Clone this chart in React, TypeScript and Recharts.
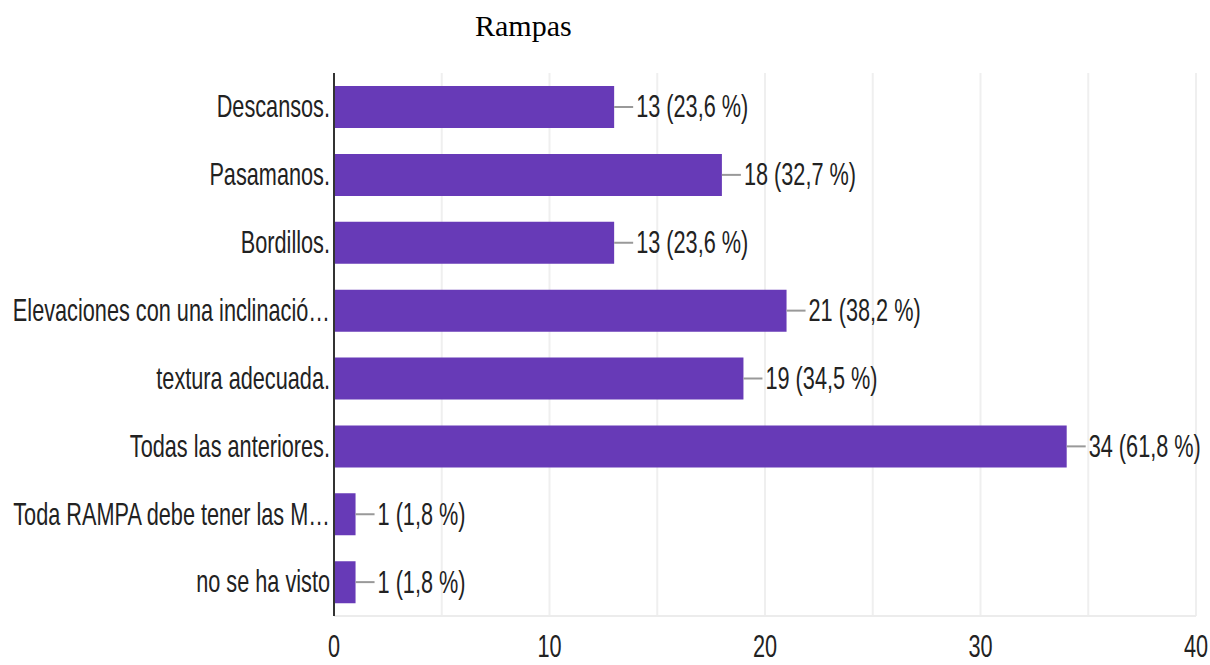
import { Bar, BarChart, CartesianGrid, LabelList, XAxis, YAxis } from 'recharts'

const categories = [
  'Descansos.',
  'Pasamanos.',
  'Bordillos.',
  'Elevaciones con una inclinació…',
  'textura adecuada.',
  'Todas las anteriores.',
  'Toda RAMPA debe tener las M…',
  'no se ha visto',
]
const counts = [13, 18, 13, 21, 19, 34, 1, 1]
const percents = ['23,6', '32,7', '23,6', '38,2', '34,5', '61,8', '1,8', '1,8']
const xTicks = [0, 5, 10, 15, 20, 25, 30, 35, 40]

const data = categories.map((name, i) => ({
  name,
  count: counts[i],
  label: `${counts[i]} (${percents[i]} %)`,
}))

const FONT = '"Liberation Sans", Arial, sans-serif'
const SQUEEZE = 0.7
const TEXT_COLOR = '#222'

function CategoryTick(props: any) {
  const { x, y, payload } = props
  return (
    <text
      transform={`translate(${x + 4},${y}) scale(${SQUEEZE},1)`}
      textAnchor="end"
      dominantBaseline="central"
      fontFamily={FONT}
      fontSize={31}
      fill={TEXT_COLOR}
    >
      {payload.value}
    </text>
  )
}

// only every other grid line gets a label
function ValueTick(props: any) {
  const { x, payload } = props
  if (payload.value % 10 !== 0) return null
  return (
    <text
      transform={`translate(${x},657) scale(${SQUEEZE},1)`}
      textAnchor="middle"
      fontFamily={FONT}
      fontSize={31}
      fill={TEXT_COLOR}
    >
      {payload.value}
    </text>
  )
}

function ValueLabel(props: any) {
  const { x, y, width, height, value } = props
  const endX = x + width
  const midY = y + height / 2
  return (
    <g>
      <line x1={endX} y1={midY} x2={endX + 19} y2={midY} stroke="#999" strokeWidth={2} />
      <text
        transform={`translate(${endX + 22},${midY}) scale(${SQUEEZE},1)`}
        dominantBaseline="central"
        fontFamily={FONT}
        fontSize={31}
        fill={TEXT_COLOR}
      >
        {value}
      </text>
    </g>
  )
}

export default function App() {
  return (
    <div style={{ position: 'absolute', left: 0, top: 0, width: 1210, height: 665, background: '#fff' }}>
      <div
        style={{
          position: 'absolute',
          left: 475,
          top: 8,
          fontFamily: '"Liberation Serif", "Times New Roman", serif',
          fontSize: 30,
          color: '#000',
          lineHeight: '36px',
        }}
      >
        Rampas
      </div>
      <BarChart
        width={1210}
        height={665}
        layout="vertical"
        data={data}
        margin={{ top: 73, right: 14, left: 0, bottom: 0 }}
        barCategoryGap={0}
      >
        <CartesianGrid horizontal={false} stroke="#efefef" strokeWidth={2} />
        <XAxis
          type="number"
          domain={[0, 40]}
          ticks={xTicks}
          interval={0}
          tickLine={false}
          axisLine={{ stroke: '#ececec', strokeWidth: 2 }}
          height={49}
          tick={<ValueTick />}
        />
        <XAxis
          xAxisId="top"
          orientation="top"
          type="number"
          domain={[0, 40]}
          tick={false}
          tickLine={false}
          height={0}
          axisLine={{ stroke: '#f2f2f2', strokeWidth: 2 }}
        />
        <YAxis
          type="category"
          dataKey="name"
          width={334}
          tickLine={false}
          axisLine={{ stroke: '#333', strokeWidth: 2 }}
          tick={<CategoryTick />}
          interval={0}
        />
        <Bar dataKey="count" fill="#673ab7" barSize={42} isAnimationActive={false}>
          <LabelList dataKey="label" content={<ValueLabel />} />
        </Bar>
      </BarChart>
    </div>
  )
}
